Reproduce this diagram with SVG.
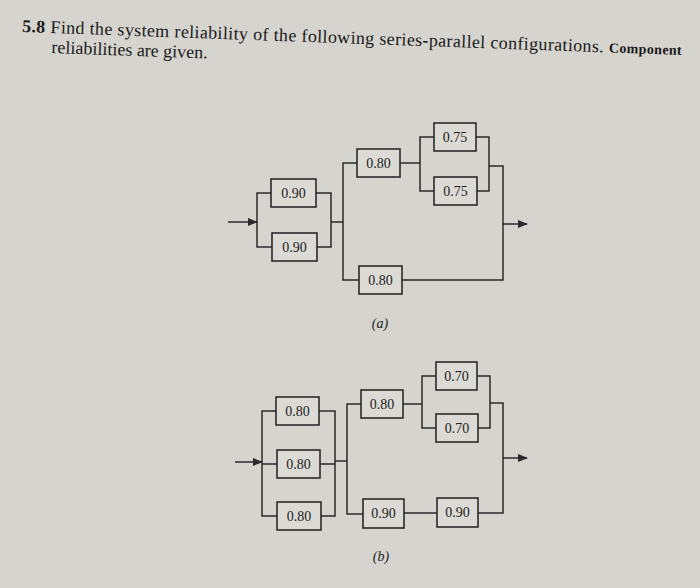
<svg xmlns="http://www.w3.org/2000/svg" width="700" height="588" viewBox="0 0 700 588">
<defs>
<style>
.bx{fill:#dcdad5;stroke:#2a2a2a;stroke-width:1.6}
.ln{fill:none;stroke:#2a2a2a;stroke-width:1.5}
.t{font-family:"Liberation Serif",serif;font-size:14px;fill:#222;text-anchor:middle;dominant-baseline:central}
.h{font-family:"Liberation Serif",serif;font-size:18px;fill:#1a1a1a}
</style>
<marker id="ar" markerWidth="10" markerHeight="8" refX="9" refY="4" orient="auto" markerUnits="userSpaceOnUse"><path d="M0,0 L10,4 L0,8 Z" fill="#2a2a2a"/></marker>
</defs>
<rect width="700" height="588" fill="#d6d4cf"/>
<g transform="rotate(2 22 30)">
<text class="h" x="22" y="32" textLength="660" lengthAdjust="spacing"><tspan font-weight="bold">5.8</tspan> Find the system reliability of the following series-parallel configurations. <tspan font-size="14" font-weight="bold">Component</tspan></text>
<text class="h" x="52" y="52">reliabilities are given.</text>
</g>
<g id="connectors">
<path class="ln" d="M228,222 H257" marker-end="url(#ar)"/>
<path class="ln" d="M271,193 H257 V247 H272"/>
<path class="ln" d="M316,193 H331 V247 H317 M331,222 H343"/>
<path class="ln" d="M357,163 H343 V280 H359"/>
<path class="ln" d="M400,163 H420 M434,137 H420 V191 H434"/>
<path class="ln" d="M476,137 H489 V191 H477 M489,166 H503 V280 H402"/>
<path class="ln" d="M503,224 H527" marker-end="url(#ar)"/>
<path class="ln" d="M235,462 H262" marker-end="url(#ar)"/>
<path class="ln" d="M276,411 H262 V516 H277 M262,464 H277"/>
<path class="ln" d="M319,411 H335 V516 H321 M320,464 H335 M335,461 H347"/>
<path class="ln" d="M361,404 H347 V514 H363"/>
<path class="ln" d="M403,404 H422 M436,376 H422 V428 H436"/>
<path class="ln" d="M477,376 H490 V428 H478 M490,403 H503 V513 H478 M404,513 H437"/>
<path class="ln" d="M503,458 H527" marker-end="url(#ar)"/>
</g>
<g id="a1"><rect class="bx" x="271" y="179" width="45" height="28"/><text class="t" x="293.5" y="193">0.90</text></g>
<g id="a2"><rect class="bx" x="272" y="233" width="45" height="28"/><text class="t" x="294.5" y="247">0.90</text></g>
<g id="a3"><rect class="bx" x="357" y="149" width="43" height="28"/><text class="t" x="378.5" y="163">0.80</text></g>
<g id="a4"><rect class="bx" x="359" y="266" width="43" height="28"/><text class="t" x="380.5" y="280">0.80</text></g>
<g id="a5"><rect class="bx" x="434" y="123" width="42" height="28"/><text class="t" x="455" y="137">0.75</text></g>
<g id="a6"><rect class="bx" x="434" y="177" width="43" height="28"/><text class="t" x="455.5" y="191">0.75</text></g>
<text class="t" x="380" y="323" font-style="italic">(a)</text>
<g id="b1"><rect class="bx" x="276" y="397" width="43" height="28"/><text class="t" x="297.5" y="411">0.80</text></g>
<g id="b2"><rect class="bx" x="277" y="450" width="43" height="28"/><text class="t" x="298.5" y="464">0.80</text></g>
<g id="b3"><rect class="bx" x="277" y="502" width="44" height="28"/><text class="t" x="299" y="516">0.80</text></g>
<g id="b4"><rect class="bx" x="361" y="390" width="42" height="28"/><text class="t" x="382" y="404">0.80</text></g>
<g id="b5"><rect class="bx" x="363" y="499" width="41" height="29"/><text class="t" x="383.5" y="513.5">0.90</text></g>
<g id="b6"><rect class="bx" x="437" y="498" width="41" height="29"/><text class="t" x="457.5" y="512.5">0.90</text></g>
<g id="b7"><rect class="bx" x="436" y="362" width="41" height="28"/><text class="t" x="456.5" y="376">0.70</text></g>
<g id="b8"><rect class="bx" x="436" y="414" width="42" height="28"/><text class="t" x="457" y="428">0.70</text></g>
<text class="t" x="381" y="556" font-style="italic">(b)</text>
</svg>
